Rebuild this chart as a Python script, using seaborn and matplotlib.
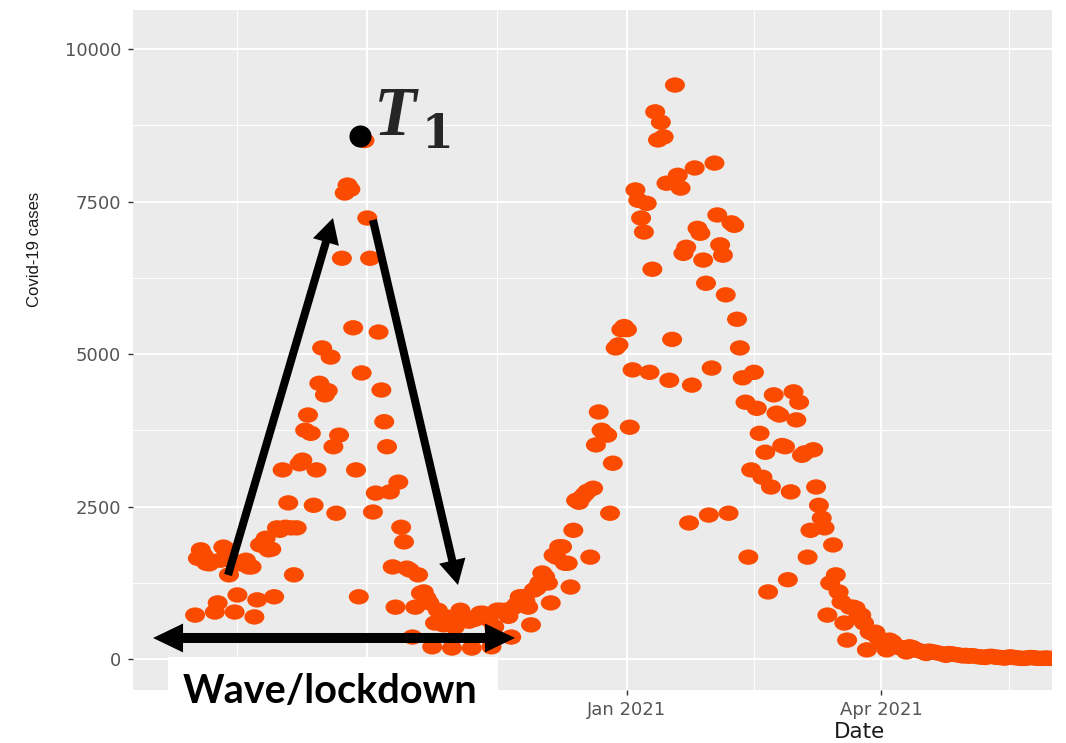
import matplotlib
matplotlib.use("Agg")
import numpy as np
import pandas as pd
import matplotlib.pyplot as plt
import matplotlib.dates as mdates
import matplotlib.ticker as mticker
from matplotlib.path import Path
from matplotlib.patches import Rectangle
import seaborn as sns

# Daily Covid-19 cases, 1 Aug 2020 - 31 May 2021, one list per month
aug_2020 = [720, 1650, 1790, 1700, 1570, 1560, 1600, 770, 920, 1620, 1835, 1800, 1380, 1620, 770, 1050,
            1560, 1590, 1620, 1510, 1510, 690, 970, 1870, 1900, 1980, 1790, 1800, 1020, 2150, 2110]
sep_2020 = [3100, 2160, 2560, 2150, 1380, 2150, 3200, 3260, 3750, 4000, 3700, 2520, 3100, 4520, 5100,
            4330, 4400, 4950, 3480, 2390, 3670, 6570, 7640, 7770, 7700, 5430, 3100, 1020, 4690, 8500]
oct_2020 = [7230, 6570, 2410, 2720, 5360, 4410, 3890, 3480, 2740, 1510, 850, 2900, 2160, 1920, 1490, 1460,
            360, 850, 1380, 1080, 1100, 1000, 920, 200, 590, 800, 670, 560, 690, 650, 180]
nov_2020 = [525, 700, 800, 690, 640, 620, 180, 650, 700, 750, 750, 720, 650, 200, 525, 800, 800, 780,
            800, 700, 360, 850, 900, 1020, 1020, 950, 850, 560, 1130, 1160]
dec_2020 = [1250, 1410, 1350, 1245, 920, 1700, 1670, 1840, 1840, 1570, 1570, 1180, 2110, 2600, 2570,
            2650, 2700, 2750, 1670, 2800, 3510, 4050, 3750, 3700, 3670, 2390, 3210, 5100, 5150, 5400, 5450]
jan_2021 = [5400, 3800, 4740, 7690, 7520, 7230, 7000, 7470, 4700, 6390, 8970, 8510, 8800, 8560, 7800,
            4570, 5240, 9410, 7930, 7720, 6650, 6750, 2230, 4490, 8050, 7060, 6980, 6540, 6160, 2360, 4770]
feb_2021 = [8130, 7280, 6790, 6620, 5970, 2390, 7150, 7110, 5570, 5100, 4610, 4210, 1670, 3100, 4700,
            4110, 3700, 2980, 3390, 1100, 2820, 4330, 4030, 4000, 3500, 3480, 1300, 2740]
mar_2021 = [4380, 3920, 4210, 3340, 3380, 1670, 2110, 3430, 2820, 2520, 2310, 2150, 720, 1245, 1870,
            1380, 1100, 935, 590, 310, 850, 850, 835, 700, 720, 590, 150, 440, 420, 440, 350]
apr_2021 = [300, 250, 150, 310, 280, 220, 200, 180, 170, 115, 200, 190, 160, 140, 130, 115, 90, 130,
            120, 110, 100, 90, 80, 60, 90, 85, 75, 70, 60, 50]
may_2021 = [60, 45, 55, 50, 40, 35, 30, 25, 40, 45, 35, 30, 25, 20, 15, 30, 35, 25, 20, 15, 10, 10,
            20, 25, 20, 15, 10, 10, 15, 15, 10]

first_day = "2020-08-01"
cases = (aug_2020 + sep_2020 + oct_2020 + nov_2020 + dec_2020 +
         jan_2021 + feb_2021 + mar_2021 + apr_2021 + may_2021)

y_ticks = [0, 2500, 5000, 7500, 10000]
x_label = "Date"
y_label = "Covid-19 cases"
wave_label = "Wave/lockdown"

df = pd.DataFrame({
    "Date": pd.date_range(first_day, periods=len(cases), freq="D"),
    "cases": cases,
})

sns.set_theme(style="darkgrid")
plt.rcParams["font.family"] = ["DejaVu Sans"]

W, H = 1066, 743
fig = plt.figure(figsize=(W / 100, H / 100), dpi=100)
fig.patch.set_facecolor("white")
ax = fig.add_axes([133 / W, 1 - 690 / H, 919 / W, 680 / H])
ax.set_facecolor("#EBEBEB")

# slightly wide elliptical dots
circle = Path.unit_circle()
ellipse = Path(circle.vertices * np.array([1.3, 1.0]), circle.codes)

sns.scatterplot(data=df, x="Date", y="cases", ax=ax, color="#FA4B00",
                marker=ellipse, s=207, linewidth=0, edgecolor="none", zorder=3)

ax.set_xlim(pd.Timestamp("2020-07-10"), pd.Timestamp("2021-05-31 14:00"))
ax.set_ylim(-508, 10640)

# quarterly date breaks with minor lines half-way between them
quarters = pd.date_range("2020-07-01", "2021-07-01", freq="QS")
mids = quarters[:-1] + (quarters[1:] - quarters[:-1]) / 2
ax.xaxis.set_major_locator(mdates.MonthLocator(bymonth=[1, 4, 7, 10]))
ax.xaxis.set_major_formatter(mdates.DateFormatter("%b %Y"))
ax.xaxis.set_minor_locator(mticker.FixedLocator(mdates.date2num(mids)))

ax.yaxis.set_major_locator(mticker.FixedLocator(y_ticks))
ax.yaxis.set_minor_locator(mticker.MultipleLocator(1250))
ax.yaxis.set_major_formatter(mticker.StrMethodFormatter("{x:.0f}"))

ax.set_axisbelow(True)
ax.grid(True, which="major", color="white", linewidth=1.4)
ax.grid(True, which="minor", color="white", linewidth=0.7)
for sp in ax.spines.values():
    sp.set_visible(False)

ax.tick_params(axis="both", which="major", bottom=True, left=True, length=3.5, width=1.0,
               color="#333333", labelcolor="#555555", labelsize=13)
ax.tick_params(axis="y", which="major", pad=5)
ax.tick_params(axis="x", which="major", pad=4.5)
ax.tick_params(axis="both", which="minor", length=0)

ax.set_xlabel(x_label, fontsize=15.5, color="#1a1a1a")
ax.xaxis.set_label_coords(0.791, -0.047)
ax.set_ylabel(y_label, fontsize=12, family="Liberation Sans", color="#1a1a1a")
ax.yaxis.set_label_coords(-0.099, 0.6485)

# rise and fall arrows of the first wave
diag = dict(arrowstyle="simple,head_length=0.9,head_width=0.97,tail_width=0.29",
            mutation_scale=20, color="black", lw=0, shrinkA=0, shrinkB=0)
ax.annotate("", xy=(0.2176, 0.6941), xytext=(0.1034, 0.1691), xycoords="axes fraction",
            arrowprops=diag, zorder=6)
ax.annotate("", xy=(0.3536, 0.1544), xytext=(0.2611, 0.6912), xycoords="axes fraction",
            arrowprops=diag, zorder=6)

# double-headed span arrow
span = dict(arrowstyle="simple,head_length=1.08,head_width=1.04,tail_width=0.36",
            mutation_scale=20, color="black", lw=0, shrinkA=0, shrinkB=0)
ax.annotate("", xy=(0.0218, 0.0765), xytext=(0.222, 0.0765), xycoords="axes fraction",
            arrowprops=span, zorder=6)
ax.annotate("", xy=(0.4156, 0.0765), xytext=(0.215, 0.0765), xycoords="axes fraction",
            arrowprops=span, zorder=6)

# T1 peak marker
ax.plot([0.2470], [0.8147], "o", transform=ax.transAxes, color="black",
        markersize=14.9, zorder=7, clip_on=False)
ax.text(0.2622, 0.8162, "T", transform=ax.transAxes, family="Liberation Serif",
        style="italic", weight="bold", fontsize=50, ha="left", va="baseline", zorder=7)
ax.text(0.3134, 0.7971, "1", transform=ax.transAxes, family="DejaVu Serif",
        weight="bold", fontsize=33, ha="left", va="baseline", zorder=7)

# white label panel under the span arrow
fig.add_artist(Rectangle((168 / W, 1 - 735 / H), 330 / W, 78 / H, transform=fig.transFigure,
                         facecolor="white", edgecolor="none", zorder=5))
fig.text(330 / W, 1 - 703 / H, wave_label, family="Lato", weight="bold", fontsize=28.5,
         ha="center", va="baseline", color="black", zorder=6)

# the October label sits under the white panel, so it is not drawn
fig.canvas.draw()
for lbl in ax.get_xticklabels():
    if lbl.get_text().startswith("Oct"):
        lbl.set_visible(False)

fig.savefig("out.png", dpi=100, facecolor="white")
